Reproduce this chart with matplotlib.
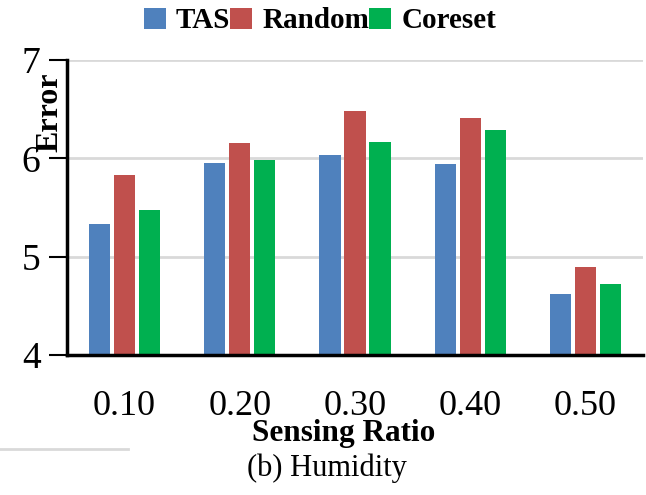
import matplotlib
matplotlib.use("Agg")
import matplotlib.pyplot as plt
import numpy as np
from matplotlib.patches import Patch

# Sensing ratios and reconstruction error per method
ratios = ["0.10", "0.20", "0.30", "0.40", "0.50"]
tas = [5.33, 5.95, 6.03, 5.94, 4.62]
random_sel = [5.83, 6.16, 6.48, 6.41, 4.89]
coreset = [5.47, 5.98, 6.17, 6.29, 4.72]

series_names = ["TAS", "Random", "Coreset"]
series_colors = ["#4F81BD", "#C0504D", "#00B050"]

plt.rcParams["font.family"] = ["Liberation Serif", "DejaVu Serif"]

W, H = 646, 495
fig = plt.figure(figsize=(W / 100, H / 100), dpi=100)
ax = fig.add_axes([67 / W, 1 - 355 / H, (643 - 67) / W, (355 - 60) / H])

x = np.arange(len(ratios))
width = 0.183
offset = 0.217
for i, (vals, color) in enumerate(zip([tas, random_sel, coreset], series_colors)):
    ax.bar(x + (i - 1) * offset, vals, width, color=color, zorder=3)

ax.set_xlim(-0.5, len(ratios) - 0.5)
ax.set_ylim(4, 7)
ax.set_yticks([4, 5, 6, 7])
ax.set_xticks(x)
ax.set_xticklabels(ratios)

ax.grid(axis="y", color="#d9d9d9", linewidth=2, zorder=0)
ax.set_axisbelow(True)
for side in ("top", "right"):
    ax.spines[side].set_visible(False)
for side in ("left", "bottom"):
    ax.spines[side].set_linewidth(2.5)
    ax.spines[side].set_zorder(4)

ax.tick_params(axis="y", direction="out", length=13, width=1.5, labelsize=27, pad=6)
ax.tick_params(axis="x", length=0, labelsize=26, pad=25)

fig.text(50 / W, 1 - 112 / H, "Error", rotation=90, fontsize=23,
         fontweight="bold", ha="center", va="center")
fig.text(344 / W, 1 - 433 / H, "Sensing Ratio", fontsize=22.5,
         fontweight="bold", ha="center", va="center")
fig.text(327 / W, 1 - 468 / H, "(b) Humidity", fontsize=22,
         ha="center", va="center")

# thin rule at the lower left
fig.add_artist(plt.Line2D([0, 128 / W], [1 - 449 / H, 1 - 449 / H],
                          color="#d9d9d9", linewidth=2))

handles = [Patch(facecolor=c, edgecolor="none") for c in series_colors]
fig.legend(handles, series_names, loc="center", bbox_to_anchor=(320 / W, 1 - 21 / H),
           ncol=3, frameon=False, handlelength=0.75, handleheight=0.75,
           handletextpad=0.35, columnspacing=0.0, borderaxespad=0,
           prop={"family": ["Liberation Serif"], "weight": "bold", "size": 21})

fig.savefig("out.png", dpi=100)
